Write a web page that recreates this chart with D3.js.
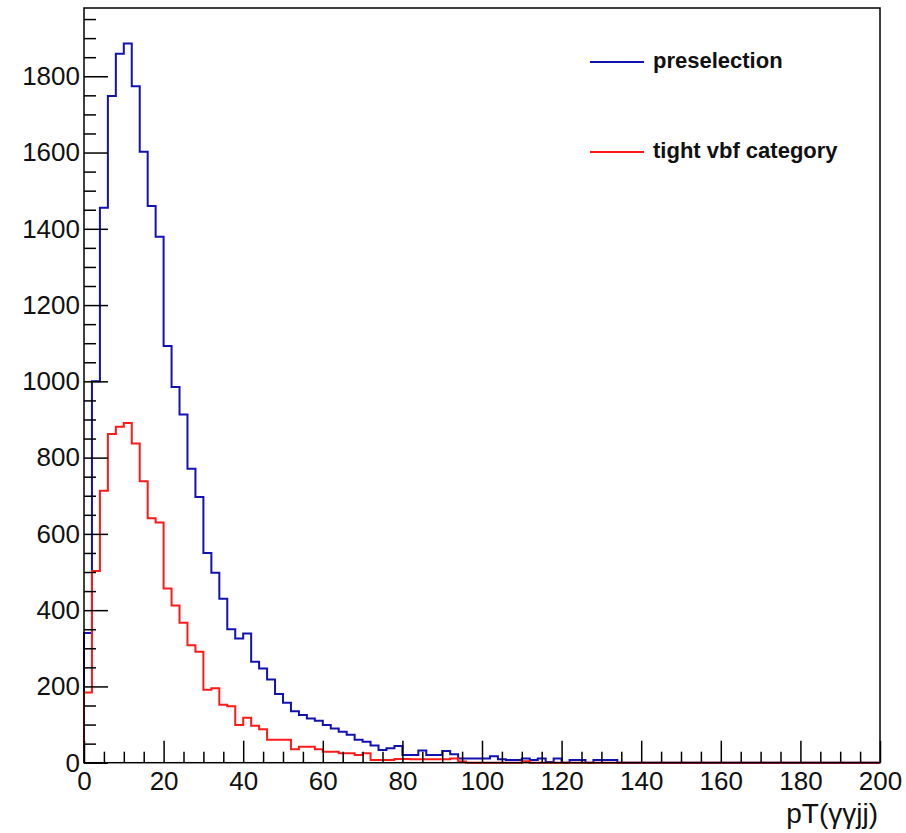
<!DOCTYPE html>
<html>
<head>
<meta charset="utf-8">
<script src="https://cdn.jsdelivr.net/npm/d3@7"></script>
<style>
  html, body { margin: 0; padding: 0; background: #fff; }
  svg { display: block; }
  .tick text { font-family: "Liberation Sans", Arial, Helvetica, sans-serif; }
</style>
</head>
<body>
<svg id="chart" width="906" height="833"></svg>
<script>
// Histogram binning: 100 bins of width 2 over pT in [0, 200]
const binLow = 0;
const binWidth = 2;

// Entries per bin, preselection
const preselection = [
  340, 1000, 1455, 1748, 1859, 1886, 1774, 1602, 1460, 1379,
  1093, 985, 913, 771, 697, 550, 498, 430, 350, 326,
  339, 265, 247, 218, 180, 157, 135, 125, 116, 110,
  99, 90, 81, 73, 60, 55, 45, 33, 38, 44,
  20, 20, 32, 20, 20, 31, 22, 11, 11, 11,
  11, 17, 9, 7, 7, 11, 7, 11, 2, 11,
  0, 7, 7, 0, 7, 7, 7, 0, 0, 0,
  0, 0, 0, 0, 0, 0, 0, 0, 0, 0,
  0, 0, 0, 0, 0, 0, 0, 0, 0, 0,
  0, 0, 0, 0, 0, 0, 0, 0, 0, 0
];

// Entries per bin, tight VBF category
const tightVbf = [
  184, 503, 713, 862, 881, 891, 837, 738, 641, 630,
  457, 412, 367, 308, 291, 191, 195, 152, 148, 99,
  118, 97, 88, 60, 60, 60, 35, 42, 42, 35,
  29, 29, 25, 25, 20, 25, 7, 7, 7, 10,
  10, 9, 9, 9, 9, 9, 11, 3, 0, 0,
  0, 0, 0, 0, 0, 4, 0, 0, 0, 0,
  0, 0, 0, 0, 0, 0, 0, 0, 0, 0,
  0, 0, 0, 0, 0, 0, 0, 0, 0, 0,
  0, 0, 0, 0, 0, 0, 0, 0, 0, 0,
  0, 0, 0, 0, 0, 0, 0, 0, 0, 0
];

const xMajorTicks = [0, 20, 40, 60, 80, 100, 120, 140, 160, 180, 200];
const yMajorTicks = [0, 200, 400, 600, 800, 1000, 1200, 1400, 1600, 1800];
const yMax = 1979;

const seriesNames = ["preselection", "tight vbf category"];
const seriesColors = ["#1212b4", "#ff1a1a"];

const svg = d3.select("#chart");
const frame = { left: 84, right: 880, top: 8, bottom: 762.7 };

const x = d3.scaleLinear().domain([0, 200]).range([frame.left, frame.right]);
const y = d3.scaleLinear().domain([0, yMax]).range([frame.bottom, frame.top]);

const fontFamily = '"Liberation Sans", Arial, Helvetica, sans-serif';

// Step outline of a histogram, closed down to zero at both ends
function stepPoints(values) {
  const pts = [[binLow, 0]];
  values.forEach((v, i) => {
    const lo = binLow + i * binWidth;
    pts.push([lo, v], [lo + binWidth, v]);
  });
  pts.push([binLow + values.length * binWidth, 0]);
  return pts;
}
const line = d3.line().x(d => x(d[0])).y(d => y(d[1]));

const series = [preselection, tightVbf];
series.forEach((vals, k) => {
  svg.append("path")
    .attr("d", line(stepPoints(vals)))
    .attr("fill", "none")
    .attr("stroke", seriesColors[k])
    .attr("stroke-width", 2)
    .attr("stroke-linejoin", "miter");
});

// Minor ticks
const xMinor = d3.range(0, 201, 5).filter(v => v % 20 !== 0);
const yMinor = d3.range(0, yMax, 50).filter(v => v % 200 !== 0);

svg.append("g")
  .attr("transform", `translate(0,${frame.bottom})`)
  .call(d3.axisBottom(x).tickValues(xMinor).tickSize(-11).tickFormat(""))
  .call(g => g.select(".domain").remove())
  .call(g => g.selectAll("line").attr("stroke", "#000").attr("stroke-width", 1.5));

svg.append("g")
  .attr("transform", `translate(${frame.left},0)`)
  .call(d3.axisLeft(y).tickValues(yMinor).tickSize(-12).tickFormat(""))
  .call(g => g.select(".domain").remove())
  .call(g => g.selectAll("line").attr("stroke", "#000").attr("stroke-width", 1.5));

// Major ticks with labels
svg.append("g")
  .attr("transform", `translate(0,${frame.bottom})`)
  .call(d3.axisBottom(x).tickValues(xMajorTicks).tickSize(-22).tickPadding(9).tickFormat(d3.format("d")))
  .call(g => g.select(".domain").remove())
  .call(g => g.selectAll("line").attr("stroke", "#000").attr("stroke-width", 1.5))
  .call(g => g.selectAll("text").attr("font-size", 26).attr("fill", "#111"));

svg.append("g")
  .attr("transform", `translate(${frame.left},0)`)
  .call(d3.axisLeft(y).tickValues(yMajorTicks).tickSize(-24).tickPadding(4).tickFormat(d3.format("d")))
  .call(g => g.select(".domain").remove())
  .call(g => g.selectAll("line").attr("stroke", "#000").attr("stroke-width", 1.5))
  .call(g => g.selectAll("text").attr("font-size", 26).attr("fill", "#111"));

// Frame
svg.append("rect")
  .attr("x", frame.left).attr("y", frame.top)
  .attr("width", frame.right - frame.left)
  .attr("height", frame.bottom - frame.top)
  .attr("fill", "none").attr("stroke", "#000").attr("stroke-width", 1.5);

// X-axis title
svg.append("text")
  .attr("x", frame.right - 2).attr("y", 823)
  .attr("text-anchor", "end")
  .attr("font-family", fontFamily)
  .attr("font-size", 28)
  .attr("fill", "#111")
  .text("pT(γγjj)");

// Legend
const legendRows = [62, 152];
seriesNames.forEach((name, k) => {
  const ly = legendRows[k];
  svg.append("line")
    .attr("x1", 590).attr("x2", 644)
    .attr("y1", ly).attr("y2", ly)
    .attr("stroke", seriesColors[k]).attr("stroke-width", 2);
  svg.append("text")
    .attr("x", 653).attr("y", ly + 6)
    .attr("font-family", fontFamily)
    .attr("font-weight", "bold")
    .attr("font-size", 22)
    .attr("fill", "#111")
    .text(name);
});
</script>
</body>
</html>
